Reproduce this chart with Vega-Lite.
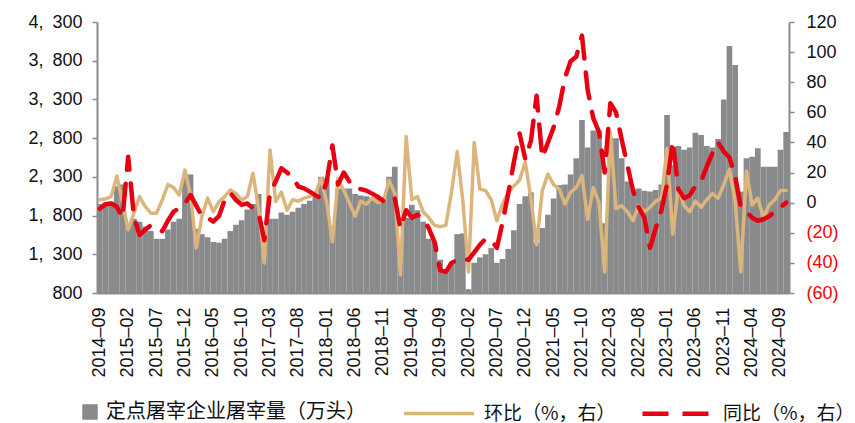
{
  "$schema": "https://vega.github.io/schema/vega-lite/v6.json",
  "width": 692,
  "height": 271,
  "autosize": {"type": "none"},
  "padding": {"left": 97, "top": 22, "right": 66, "bottom": 130},
  "background": "white",
  "config": {
    "view": {"stroke": null},
    "font": "Liberation Sans",
    "axis": {
      "grid": false,
      "domainColor": "#8c8c8c",
      "domainWidth": 2,
      "tickColor": "#8c8c8c",
      "tickWidth": 1.5,
      "labelColor": "#111111",
      "labelFont": "Liberation Sans",
      "labelFontSize": 18,
      "title": null
    },
    "legend": {"labelFont": "Noto Sans CJK SC", "labelFontSize": 19, "labelColor": "#111111", "labelLimit": 0}
  },
  "data": {
    "values": [
      {"month": "2014-09", "slaughter": 1950, "mom": 2, "yoy": -4},
      {"month": "2014-10", "slaughter": 1970, "mom": 2.5, "yoy": -1},
      {"month": "2014-11", "slaughter": 1980, "mom": 4, "yoy": -0.5},
      {"month": "2014-12", "slaughter": 2180, "mom": 17.7, "yoy": -2.7},
      {"month": "2015-01", "slaughter": 2200, "mom": 0, "yoy": -10},
      {"month": "2015-02", "slaughter": 1700, "mom": -18, "yoy": 30.5},
      {"month": "2015-03", "slaughter": 1760, "mom": -7, "yoy": -9},
      {"month": "2015-04", "slaughter": 1720, "mom": 4, "yoy": -21.5},
      {"month": "2015-05", "slaughter": 1660, "mom": -2.6, "yoy": -18},
      {"month": "2015-06", "slaughter": 1600, "mom": -7, "yoy": -15},
      {"month": "2015-07", "slaughter": 1500, "mom": -7, "yoy": -17},
      {"month": "2015-08", "slaughter": 1500, "mom": 1.8, "yoy": -19},
      {"month": "2015-09", "slaughter": 1620, "mom": 12, "yoy": -12},
      {"month": "2015-10", "slaughter": 1720, "mom": 10, "yoy": -6},
      {"month": "2015-11", "slaughter": 1760, "mom": 5, "yoy": -3.7},
      {"month": "2015-12", "slaughter": 2330, "mom": 21.7, "yoy": -0.5},
      {"month": "2016-01", "slaughter": 2330, "mom": 5, "yoy": 5},
      {"month": "2016-02", "slaughter": 1630, "mom": -30, "yoy": -2},
      {"month": "2016-03", "slaughter": 1560, "mom": -9, "yoy": -9},
      {"month": "2016-04", "slaughter": 1520, "mom": 3, "yoy": -10},
      {"month": "2016-05", "slaughter": 1460, "mom": -6, "yoy": -12.6},
      {"month": "2016-06", "slaughter": 1450, "mom": 0.7, "yoy": -9},
      {"month": "2016-07", "slaughter": 1500, "mom": 4, "yoy": 1.8},
      {"month": "2016-08", "slaughter": 1600, "mom": 8.4, "yoy": 6.4},
      {"month": "2016-09", "slaughter": 1680, "mom": 6, "yoy": 1.8},
      {"month": "2016-10", "slaughter": 1740, "mom": 1.8, "yoy": -1.5},
      {"month": "2016-11", "slaughter": 1880, "mom": 4, "yoy": -0.5},
      {"month": "2016-12", "slaughter": 1950, "mom": 19.5, "yoy": -3.7},
      {"month": "2017-01", "slaughter": 2080, "mom": -4, "yoy": -7},
      {"month": "2017-02", "slaughter": 1600, "mom": -40, "yoy": -25},
      {"month": "2017-03", "slaughter": 1760, "mom": 35, "yoy": 6.4},
      {"month": "2017-04", "slaughter": 1760, "mom": 0.7, "yoy": 14},
      {"month": "2017-05", "slaughter": 1840, "mom": 7, "yoy": 22.8},
      {"month": "2017-06", "slaughter": 1810, "mom": -5, "yoy": 20},
      {"month": "2017-07", "slaughter": 1850, "mom": 2, "yoy": 17},
      {"month": "2017-08", "slaughter": 1900, "mom": 1, "yoy": 10.6},
      {"month": "2017-09", "slaughter": 1950, "mom": 3, "yoy": 9.5},
      {"month": "2017-10", "slaughter": 1990, "mom": 4, "yoy": 7.3},
      {"month": "2017-11", "slaughter": 2050, "mom": 6, "yoy": 5},
      {"month": "2017-12", "slaughter": 2300, "mom": 16, "yoy": 3},
      {"month": "2018-01", "slaughter": 2280, "mom": 0, "yoy": 14},
      {"month": "2018-02", "slaughter": 1600, "mom": -26, "yoy": 38},
      {"month": "2018-03", "slaughter": 2150, "mom": 16, "yoy": 12},
      {"month": "2018-04", "slaughter": 2150, "mom": 8, "yoy": 20},
      {"month": "2018-05", "slaughter": 2150, "mom": 0, "yoy": 14},
      {"month": "2018-06", "slaughter": 2080, "mom": -9, "yoy": 10},
      {"month": "2018-07", "slaughter": 2060, "mom": 1, "yoy": 9},
      {"month": "2018-08", "slaughter": 2050, "mom": -1, "yoy": 8},
      {"month": "2018-09", "slaughter": 2030, "mom": 3, "yoy": 6},
      {"month": "2018-10", "slaughter": 2030, "mom": 0, "yoy": 4},
      {"month": "2018-11", "slaughter": 2040, "mom": 1, "yoy": 1},
      {"month": "2018-12", "slaughter": 2300, "mom": 15, "yoy": 4},
      {"month": "2019-01", "slaughter": 2430, "mom": 6, "yoy": 3},
      {"month": "2019-02", "slaughter": 1450, "mom": -48, "yoy": -17},
      {"month": "2019-03", "slaughter": 1770, "mom": 44, "yoy": -5},
      {"month": "2019-04", "slaughter": 1940, "mom": 2, "yoy": -10},
      {"month": "2019-05", "slaughter": 1870, "mom": 4, "yoy": -8},
      {"month": "2019-06", "slaughter": 1720, "mom": -6, "yoy": -11},
      {"month": "2019-07", "slaughter": 1500, "mom": -10, "yoy": -17},
      {"month": "2019-08", "slaughter": 1460, "mom": -15, "yoy": -26},
      {"month": "2019-09", "slaughter": 1230, "mom": -16, "yoy": -45},
      {"month": "2019-10", "slaughter": 1110, "mom": -15, "yoy": -46},
      {"month": "2019-11", "slaughter": 1200, "mom": 7, "yoy": -40},
      {"month": "2019-12", "slaughter": 1560, "mom": 34, "yoy": -38},
      {"month": "2020-01", "slaughter": 1570, "mom": 1, "yoy": -37},
      {"month": "2020-02", "slaughter": 850, "mom": -46, "yoy": -38},
      {"month": "2020-03", "slaughter": 1190, "mom": 40, "yoy": -33},
      {"month": "2020-04", "slaughter": 1260, "mom": 9, "yoy": -28},
      {"month": "2020-05", "slaughter": 1300, "mom": 8, "yoy": -24},
      {"month": "2020-06", "slaughter": 1380, "mom": 2, "yoy": -25},
      {"month": "2020-07", "slaughter": 1190, "mom": -12, "yoy": -30},
      {"month": "2020-08", "slaughter": 1240, "mom": -1, "yoy": -13},
      {"month": "2020-09", "slaughter": 1370, "mom": 7, "yoy": 6},
      {"month": "2020-10", "slaughter": 1610, "mom": 11, "yoy": 27},
      {"month": "2020-11", "slaughter": 1950, "mom": 15, "yoy": 46},
      {"month": "2020-12", "slaughter": 2050, "mom": 27, "yoy": 29},
      {"month": "2021-01", "slaughter": 2100, "mom": 3, "yoy": 41},
      {"month": "2021-02", "slaughter": 1450, "mom": -28, "yoy": 71},
      {"month": "2021-03", "slaughter": 1640, "mom": 8, "yoy": 30},
      {"month": "2021-04", "slaughter": 1810, "mom": 19, "yoy": 40},
      {"month": "2021-05", "slaughter": 2020, "mom": 12, "yoy": 50},
      {"month": "2021-06", "slaughter": 2190, "mom": 9, "yoy": 64},
      {"month": "2021-07", "slaughter": 2200, "mom": -1, "yoy": 83},
      {"month": "2021-08", "slaughter": 2330, "mom": 7, "yoy": 94},
      {"month": "2021-09", "slaughter": 2540, "mom": 10, "yoy": 97},
      {"month": "2021-10", "slaughter": 3035, "mom": 18, "yoy": 111},
      {"month": "2021-11", "slaughter": 2680, "mom": -11, "yoy": 75},
      {"month": "2021-12", "slaughter": 2900, "mom": 10, "yoy": 56},
      {"month": "2022-01", "slaughter": 2900, "mom": 0, "yoy": 47},
      {"month": "2022-02", "slaughter": 1700, "mom": -46, "yoy": 20},
      {"month": "2022-03", "slaughter": 2800, "mom": 47, "yoy": 66},
      {"month": "2022-04", "slaughter": 2800, "mom": -4, "yoy": 60},
      {"month": "2022-05", "slaughter": 2540, "mom": -2, "yoy": 42},
      {"month": "2022-06", "slaughter": 2240, "mom": -6, "yoy": 25},
      {"month": "2022-07", "slaughter": 2140, "mom": -12, "yoy": 8},
      {"month": "2022-08", "slaughter": 2150, "mom": -2, "yoy": -3},
      {"month": "2022-09", "slaughter": 2120, "mom": -6, "yoy": -10},
      {"month": "2022-10", "slaughter": 2110, "mom": -3, "yoy": -30},
      {"month": "2022-11", "slaughter": 2130, "mom": 1, "yoy": -17},
      {"month": "2022-12", "slaughter": 2200, "mom": 3, "yoy": -5},
      {"month": "2023-01", "slaughter": 3100, "mom": 36, "yoy": 12},
      {"month": "2023-02", "slaughter": 2450, "mom": -21, "yoy": 41},
      {"month": "2023-03", "slaughter": 2700, "mom": 10, "yoy": 9},
      {"month": "2023-04", "slaughter": 2650, "mom": -2, "yoy": 3},
      {"month": "2023-05", "slaughter": 2680, "mom": -6, "yoy": 5},
      {"month": "2023-06", "slaughter": 2870, "mom": 1, "yoy": 11},
      {"month": "2023-07", "slaughter": 2840, "mom": -3, "yoy": 14},
      {"month": "2023-08", "slaughter": 2700, "mom": 2, "yoy": 24},
      {"month": "2023-09", "slaughter": 2680, "mom": 6, "yoy": 33},
      {"month": "2023-10", "slaughter": 2790, "mom": 3, "yoy": 40},
      {"month": "2023-11", "slaughter": 3300, "mom": 12, "yoy": 34},
      {"month": "2023-12", "slaughter": 3990, "mom": 22, "yoy": 30},
      {"month": "2024-01", "slaughter": 3745, "mom": 1, "yoy": 18},
      {"month": "2024-02", "slaughter": 2110, "mom": -46, "yoy": -3},
      {"month": "2024-03", "slaughter": 2540, "mom": 21, "yoy": -6},
      {"month": "2024-04", "slaughter": 2560, "mom": -1.5, "yoy": -10},
      {"month": "2024-05", "slaughter": 2670, "mom": 3, "yoy": -12},
      {"month": "2024-06", "slaughter": 2430, "mom": -10, "yoy": -11},
      {"month": "2024-07", "slaughter": 2430, "mom": -1.5, "yoy": -9},
      {"month": "2024-08", "slaughter": 2430, "mom": 2, "yoy": -6},
      {"month": "2024-09", "slaughter": 2650, "mom": 8, "yoy": -3},
      {"month": "2024-10", "slaughter": 2880, "mom": 8, "yoy": 0}
    ]
  },
  "layer": [
    {
      "mark": {"type": "bar", "clip": true},
      "encoding": {
        "x": {
          "field": "month",
          "type": "ordinal",
          "scale": {"paddingInner": 0, "paddingOuter": 0},
          "axis": {
            "values": ["2014-09","2015-02","2015-07","2015-12","2016-05","2016-10","2017-03","2017-08","2018-01","2018-06","2018-11","2019-04","2019-09","2020-02","2020-07","2020-12","2021-05","2021-10","2022-03","2022-08","2023-01","2023-06","2023-11","2024-04","2024-09"],
            "labelAngle": -90,
            "labelExpr": "replace(datum.label, '-', '–')",
            "labelFontSize": 18,
            "ticks": false,
            "labelPadding": 14
          }
        },
        "y": {
          "field": "slaughter",
          "type": "quantitative",
          "scale": {"domain": [800, 4300], "zero": false, "nice": false},
          "axis": {
            "values": [800, 1300, 1800, 2300, 2800, 3300, 3800, 4300],
            "labelExpr": "replace(format(datum.value, ','), ',', ',\u2002')",
            "tickSize": 5,
            "labelPadding": 10
          }
        },
        "fill": {
          "datum": "定点屠宰企业屠宰量（万头）",
          "type": "nominal",
          "scale": {"range": ["#898a8c"]},
          "legend": {
            "orient": "none",
            "legendX": -17,
            "legendY": 380,
            "title": null,
            "symbolType": "square",
            "symbolSize": 240,
            "symbolStrokeWidth": 0,
            "labelOffset": 6,
            "labelFontSize": 20
          }
        }
      }
    },
    {
      "transform": [{"fold": ["mom", "yoy"], "as": ["series", "pct"]}],
      "mark": {"type": "line", "strokeCap": "round", "strokeJoin": "round"},
      "encoding": {
        "x": {"field": "month", "type": "ordinal"},
        "y": {
          "field": "pct",
          "type": "quantitative",
          "scale": {"domain": [-60, 120], "zero": false, "nice": false},
          "axis": {
            "orient": "right",
            "values": [-60, -40, -20, 0, 20, 40, 60, 80, 100, 120],
            "labelExpr": "datum.value < 0 ? '(' + abs(datum.value) + ')' : datum.value",
            "labelColor": {"condition": {"test": "datum.value < 0", "value": "#ff0000"}, "value": "#111111"},
            "tickSize": 5,
            "labelPadding": 12
          }
        },
        "stroke": {
          "field": "series",
          "type": "nominal",
          "scale": {"domain": ["mom", "yoy"], "range": ["#dcb57c", "#e60012"]},
          "legend": {
            "orient": "none",
            "legendX": 305,
            "legendY": 354,
            "direction": "horizontal",
            "title": null,
            "symbolType": "stroke",
            "symbolSize": 4900,
            "symbolStrokeWidth": 4.5,
            "columnPadding": 17,
            "labelOffset": 8,
            "labelExpr": "datum.value == 'mom' ? '环比（%，右）' : '同比（%，右）'"
          }
        },
        "strokeDash": {
          "field": "series",
          "type": "nominal",
          "scale": {"domain": ["mom", "yoy"], "range": [[1, 0], [26, 14]]},
          "legend": {
            "orient": "none",
            "legendX": 305,
            "legendY": 354,
            "direction": "horizontal",
            "title": null,
            "symbolType": "stroke",
            "symbolSize": 4900,
            "symbolStrokeWidth": 4.5,
            "columnPadding": 17,
            "labelOffset": 8,
            "labelExpr": "datum.value == 'mom' ? '环比（%，右）' : '同比（%，右）'"
          }
        },
        "strokeWidth": {
          "field": "series",
          "type": "nominal",
          "scale": {"domain": ["mom", "yoy"], "range": [3.5, 4.5]},
          "legend": null
        }
      }
    }
  ],
  "resolve": {"scale": {"y": "independent", "fill": "independent"}}
}
